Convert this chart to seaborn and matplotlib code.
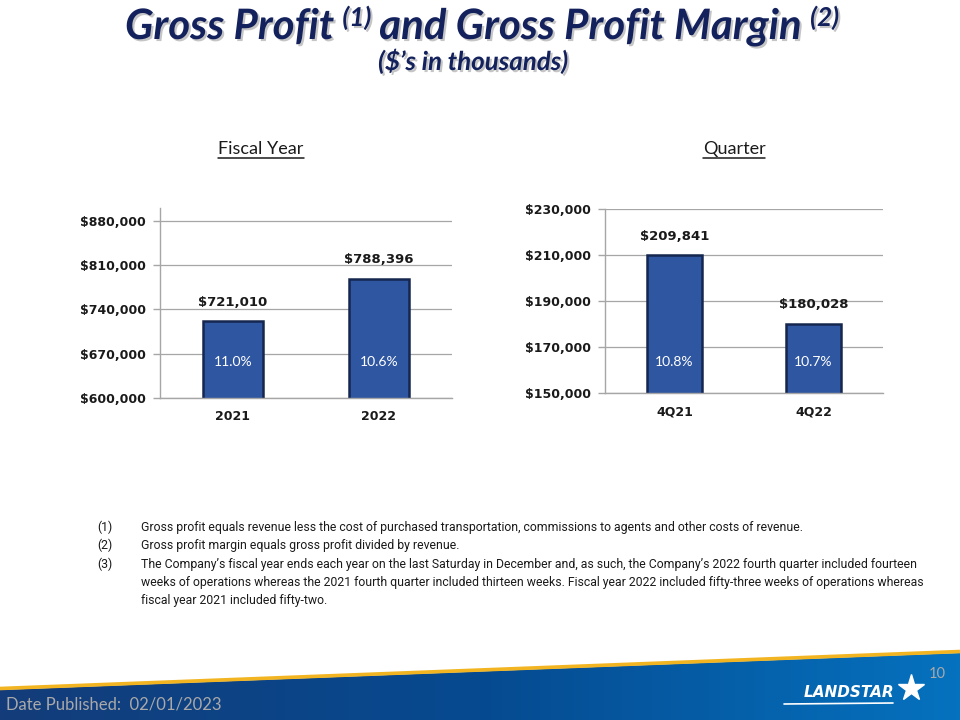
import numpy as np
import matplotlib
matplotlib.use("Agg")
import matplotlib.pyplot as plt
import matplotlib.patheffects as pe
import matplotlib.transforms as mtrans
from matplotlib.colors import LinearSegmentedColormap
from matplotlib.patches import Polygon
import seaborn as sns

# data
years = ["2021", "2022"]
year_profit = [721010, 788396]
year_margin = ["11.0%", "10.6%"]
year_ticks = [600000, 670000, 740000, 810000, 880000]

quarters = ["4Q21", "4Q22"]
quarter_profit = [209841, 180028]
quarter_margin = ["10.8%", "10.7%"]
quarter_ticks = [150000, 170000, 190000, 210000, 230000]

note_marks = ["(1)", "(2)", "(3)", "", ""]
note_lines = [
    "Gross profit equals revenue less the cost of purchased transportation, commissions to agents and other costs of revenue.",
    "Gross profit margin equals gross profit divided by revenue.",
    "The Company\u2019s fiscal year ends each year on the last Saturday in December and, as such, the Company\u2019s 2022 fourth quarter included fourteen",
    "weeks of operations whereas the 2021 fourth quarter included thirteen weeks. Fiscal year 2022 included fifty-three weeks of operations whereas",
    "fiscal year 2021 included fifty-two.",
]

sns.set_theme(style="white")
plt.rcParams['font.family'] = ['Lato', 'DejaVu Sans']

BAR = "#2F56A0"
EDGE = "#15264F"
GRID = "#A6A6A6"
NAVY = "#13215C"

W, H = 960, 720
fig = plt.figure(figsize=(9.6, 7.2), dpi=100)
fig.patch.set_facecolor("white")

# background axes in pixel coords (y down)
bg = fig.add_axes([0, 0, 1, 1], zorder=0)
bg.set_xlim(0, W)
bg.set_ylim(H, 0)
bg.axis("off")

# footer band
band = Polygon([(0, 690), (W, 653), (W, H), (0, H)], closed=True,
               facecolor="none", edgecolor="none")
bg.add_patch(band)
cmap = LinearSegmentedColormap.from_list("band", ["#143C7A", "#064A90", "#0572BF"])
grad = np.linspace(0, 1, 256).reshape(1, -1)
im = bg.imshow(grad, cmap=cmap, extent=[0, W, H, 640], aspect="auto", zorder=1)
im.set_clip_path(band)
bg.plot([0, W], [688.5, 651.5], color="#F2B521", lw=2.6, zorder=2, solid_capstyle="butt")
bg.set_xlim(0, W)
bg.set_ylim(H, 0)

bg.text(6, 710, "Date Published:  02/01/2023", color="#A9A9A9", fontsize=12, va="baseline")
bg.text(937, 678, "10", color="#A9A9A9", fontsize=10.5, ha="center", va="baseline")
bg.text(849, 697, "LANDSTAR", color="white", fontsize=11, fontweight="bold",
        fontstyle="italic", ha="center", va="baseline", family="DejaVu Sans")
bg.plot([784, 893], [704, 703], color="white", lw=1.2)
bg.plot([911], [688], marker="*", color="white", markersize=20, markeredgecolor="white")

fig.canvas.draw()
renderer = fig.canvas.get_renderer()


def text_row(pieces, xc, y, target_w=None, **kw):
    # pieces: (string, size scale, raise in px, gap after in px)
    arts = []
    for s, scale, dy, gap in pieces:
        arts.append(bg.text(0, y, s, va="baseline", **kw))
    base = arts[0].get_fontsize()
    for t, (s, scale, dy, gap) in zip(arts, pieces):
        t.set_fontsize(base * scale)
    def total():
        return sum(t.get_window_extent(renderer).width for t in arts) + sum(p[3] for p in pieces)
    if target_w:
        f = target_w / total()
        for t, (s, scale, dy, gap) in zip(arts, pieces):
            t.set_fontsize(base * scale * f)
    x = xc - total() / 2
    for t, (s, scale, dy, gap) in zip(arts, pieces):
        t.set_position((x, y - dy))
        x += t.get_window_extent(renderer).width + gap
    return arts


shadow = [pe.withSimplePatchShadow(offset=(1.5, -1.5), shadow_rgbFace="#8C8C8C", alpha=0.5)]
title_pieces = [("Gross Profit", 1.0, 0, 8), ("(1)", 0.62, 13, 8),
                ("and Gross Profit Margin", 1.0, 0, 8), ("(2)", 0.62, 13, 0)]
text_row(title_pieces, 482, 39, target_w=715, fontsize=28, fontweight="bold",
         fontstyle="italic", color=NAVY, path_effects=shadow)
text_row([("($\u2019s in thousands)", 1.0, 0, 0)], 473, 70, target_w=190, fontsize=16,
         fontweight="bold", fontstyle="italic", color=NAVY, path_effects=shadow)

# panel headings with underline
for label, xc in [("Fiscal Year", 261), ("Quarter", 734)]:
    t = bg.text(xc, 154, label, ha="center", va="baseline", fontsize=13, color="#1A1A1A")
    bb = t.get_window_extent(renderer)
    bg.plot([bb.x0, bb.x1], [158, 158], color="#1A1A1A", lw=1.1)

# footnotes, sized so the longest line spans like the reference
NOTE_FONT = ["Roboto", "DejaVu Sans"]
probe = bg.text(141, 0, note_lines[2], fontsize=10, va="baseline", family=NOTE_FONT)
note_size = 10 * 777 / probe.get_window_extent(renderer).width
probe.remove()
for i, (m, line) in enumerate(zip(note_marks, note_lines)):
    yy = 531 + i * 18.3
    if m:
        bg.text(97, yy, m, fontsize=note_size, color="#1A1A1A", va="baseline", family=NOTE_FONT)
    bg.text(141, yy, line, fontsize=note_size, color="#1A1A1A", va="baseline", family=NOTE_FONT)


def bar_panel(ax, cats, vals, margins, ticks, ylim, width, pct_frac):
    sns.barplot(x=cats, y=vals, ax=ax, color=BAR, width=width, saturation=1,
                edgecolor=EDGE, linewidth=1.8)
    ax.set_xlim(-0.5, 1.5)
    ax.set_ylim(*ylim)
    ax.set_yticks(ticks)
    ax.set_yticklabels([f"${t:,}" for t in ticks])
    ax.yaxis.grid(True, color=GRID, lw=0.9)
    ax.set_axisbelow(True)
    ax.set_facecolor("none")
    for s in ["top", "right"]:
        ax.spines[s].set_visible(False)
    for s in ["left", "bottom"]:
        ax.spines[s].set_color(GRID)
        ax.spines[s].set_linewidth(1.0)
    ax.set_xticks([-0.5, 0.5, 1.5], minor=True)
    ax.tick_params(axis="x", which="major", length=0, pad=9)
    ax.tick_params(axis="x", which="minor", length=4, color=GRID, width=1, direction="out")
    ax.tick_params(axis="y", length=5, color=GRID, width=1, pad=5, left=True)
    for lab in ax.get_xticklabels() + ax.get_yticklabels():
        lab.set_fontweight("bold")
        lab.set_fontsize(9)
        lab.set_family("DejaVu Sans")
        lab.set_color("#1A1A1A")
    ax.set_xlabel("")
    ax.set_ylabel("")
    trans = mtrans.blended_transform_factory(ax.transData, ax.transAxes)
    for i, (v, m) in enumerate(zip(vals, margins)):
        ax.annotate(f"${v:,}", (i, v), xytext=(0, 9), textcoords="offset points",
                    ha="center", va="bottom", fontsize=9.5, fontweight="bold",
                    family="DejaVu Sans", color="#1A1A1A")
        ax.text(i, pct_frac, m, transform=trans, ha="center", va="center",
                fontsize=10, color="white")


ax1 = fig.add_axes([160 / W, 1 - 398 / H, 292 / W, 190 / H], zorder=3)
bar_panel(ax1, years, year_profit, year_margin, year_ticks, (600000, 900000), 0.41, 0.19)

ax2 = fig.add_axes([605 / W, 1 - 393 / H, 278 / W, 184 / H], zorder=3)
bar_panel(ax2, quarters, quarter_profit, quarter_margin, quarter_ticks, (150000, 230000), 0.40, 0.17)

fig.savefig("out.png", dpi=100, facecolor="white")
